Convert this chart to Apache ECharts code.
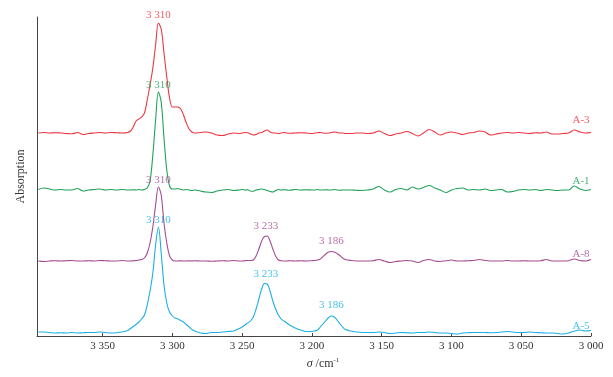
<!DOCTYPE html>
<html>
<head>
<meta charset="utf-8">
<script src="https://cdn.jsdelivr.net/npm/echarts@6/dist/echarts.min.js"></script>
<style>
  html, body { margin: 0; padding: 0; background: #fff; }
  #chart { width: 613px; height: 377px; }
</style>
</head>
<body>
<div id="chart"></div>
<script>
// wavenumbers (cm-1), finer around the bands
const wavenumbers = [
  3396, 3392, 3388, 3384, 3380, 3376, 3372, 3368, 3364, 3360, 3356, 3352, 3348, 3344, 3340, 3336, 3332,
  3330, 3328, 3326, 3324, 3322, 3320, 3318, 3316, 3314, 3312, 3310, 3308, 3306, 3304, 3302, 3300, 3298, 3296, 3294, 3292, 3290, 3288, 3286,
  3284, 3280, 3276, 3272, 3268, 3264, 3260, 3256, 3252,
  3250, 3248, 3246, 3244, 3242, 3240, 3238, 3236, 3234, 3232, 3230, 3228, 3226, 3224, 3222, 3220, 3218, 3216,
  3212, 3208, 3204, 3200,
  3198, 3196, 3194, 3192, 3190, 3188, 3186, 3184, 3182, 3180, 3178, 3176,
  3172, 3168, 3164, 3160, 3156, 3152, 3148, 3144, 3140, 3136, 3132, 3128, 3124, 3120, 3116, 3112, 3108, 3104,
  3100, 3096, 3092, 3088, 3084, 3080, 3076, 3072, 3068, 3064, 3060, 3056, 3052, 3048, 3044, 3040, 3036, 3032,
  3028, 3024, 3020, 3016, 3012, 3008, 3004, 3000
];

// absorption of each sample (arbitrary units, own baseline = 0)
const a3 = [
  0, 0.5, 0, 0.3, 0, -0.5, -0.8, 0.5, -1.5, -0.5, 0, 0.5, 0, 0.5, 0.3, 0, 0.5,
  2, 6, 12, 14, 16, 20, 33, 48, 65, 88, 110, 104, 80, 56, 35, 26, 26, 26, 24, 18, 10, 4, 1,
  0, 0.5, 1, 0, -2, -2.5, -1, 0, -0.5,
  0, 0.5, 0.3, -1, -2, -1.5, 0, 0.5, 2, 3, 1, 0, 0, -0.5, 0, 0.5, 0, -0.3,
  0, 0.3, 0, -0.5,
  0, 0.3, 0.5, 0, -0.3, 0, 0.5, 1, 0.5, 0, 0, -0.5,
  -0.5, 0, 0, -0.5, 0, 2, -0.5, -2.5, -1, 0, 1.5, -0.5, -3, 0, 3.5, 1, -2, 0,
  1, 0, -1.5, 0, 0.5, 2, 1, -2, -1, 0, 0.5, 0, 0.5, 0, -0.5, 0.3, 0, 1,
  -1, -1, -0.5, 0, 3, 1, 0, 0.5
];
const a1 = [
  0.5, 2, 1, 0, 0.5, 0, 0, 1.5, -1, 0, 0.5, 1, 0, 0.5, 0, 0.5, 0,
  0, 0.3, 0, 0.5, 0, 0.5, 2, 9, 35, 70, 98, 88, 52, 20, 4, 1, 1, 1.5, 0.5, 0, 0.5, 0, -0.5,
  0, -1, -2, -2.5, -1, 0, 0.5, -0.5, 0,
  0.5, 0, 0.3, -1, -1.2, 0, 0.5, 1, 0.5, -0.5, -1.5, -2, -0.5, 0.5, 0, 0.3, 0, -0.3,
  0.5, 0, 0.3, 0,
  0, 0.5, 0, 0, 0.3, 0, 0, 0.5, 0, -0.3, 0, 0,
  0, -0.3, -0.5, 0, 1, 3.5, 0, -2, 0.5, 1.5, 0, 3, 1, 2.5, 4.5, 2, 0, -2.5,
  0, 1.5, 2, 0, 0.5, 0, 1, -0.5, 0, 0.5, -2, -1.5, 0, 0.5, 0, 0.5, -0.5, 0.5,
  0, -0.5, 0, 0, 4, 1, -0.5, 0.5
];
const a8 = [
  0, -0.5, 0, 0.3, 0, 0.3, 0.5, 0, 0, 0.3, 0, 0.5, 0.3, 0, 0, 0.5, 0,
  0, 0.3, 0.5, 1, 1.5, 3, 8, 18, 34, 56, 74, 66, 38, 18, 5, 1, 0, 0, 0.3, 0, 0, 0.3, 0,
  0.3, 0, 0, -0.3, 0, 0.3, 0, 0.5, 0,
  0, 0.3, 0.5, 0.5, 1, 5, 12, 20, 24.5, 25, 20, 12, 5, 1, 0.3, 0, 0, 0.3,
  0, 0.3, 0, 0.3,
  0.5, 1, 2, 4.5, 7, 9, 9.5, 9, 7.5, 5.5, 3, 1.5,
  0.5, 0, 0, 0, 0.3, 1.5, 0, -1.5, -0.5, 0, 0.5, 0, -1.5, 0.5, 1.5, 0, -0.5, 0.3,
  1, 0, 0, 0.3, 0.5, 1.5, 0.5, 0, 0, 0, 0.5, 0, 0, 0.3, 0, 0, 0.3, 1.5,
  0, 0, 0, 0.3, 2, 0.5, 0, 1.5
];
const a5 = [
  1, 1, 0.5, 0, 0.3, 0, 0.5, 0, 0.3, 0.5, 0.5, 1, 0.5, 0, 0.3, 1, 2.5,
  4.5, 6.5, 8.5, 11, 14, 18, 28, 42, 60, 88, 106, 80, 48, 30, 21, 17, 15, 14, 12.5, 11, 8.5, 6, 3.5,
  2, 0, -0.5, 0.5, 0.5, 1, 1.5, 2, 4.5,
  6, 8, 10, 12, 16, 24, 34, 44, 49.5, 49, 42, 32, 24, 18, 14, 12, 10, 8,
  5, 3, 1.5, 1.5,
  2, 3, 6, 9, 12.5, 15.5, 17, 16, 13, 9.5, 6, 3.5,
  2, 1, 0.5, 0.5, 0.5, 1, 0.5, -0.5, 0, 0.5, 0.3, 0, 0.5, 0.5, 1, 0.5, 0, 0,
  -0.5, -1, 0, 0.3, 0.5, 0.5, 0.5, 0.3, 0.5, 1, 1.5, 1, 0.5, 0.5, 1, 0.5, 0.3, 0,
  0, -0.5, -1, 0, 2, 3, 2, 2.5
];

const seriesNames = ["A-3", "A-1", "A-8", "A-5"];
const spectra = [a3, a1, a8, a5];
const colors = ["#ee3540", "#21a25a", "#a64c90", "#1bafe6"];
// vertical shift of each trace so they stack
const offsets = [203, 146, 75, 3];

// labelled bands: [trace index, wavenumber]
const peaks = [
  [0, 3310], [1, 3310], [2, 3310], [3, 3310],
  [2, 3233], [2, 3186], [3, 3233], [3, 3186]
];
const xTicks = [3350, 3300, 3250, 3200, 3150, 3100, 3050, 3000];

const fmtWn = (v) => {
  const s = String(Math.round(v));
  return s.slice(0, 1) + " " + s.slice(1);
};

// index of the highest sample within 3 cm-1 of a band position
const peakIndex = (vals, w) => {
  let best = -1;
  wavenumbers.forEach((x, i) => {
    if (Math.abs(x - w) <= 3 && (best < 0 || vals[i] > vals[best])) best = i;
  });
  return best;
};

const serif = "Liberation Serif, Times New Roman, serif";
const chart = echarts.init(document.getElementById("chart"));

const lineSeries = spectra.map((vals, k) => ({
  name: seriesNames[k],
  type: "line",
  showSymbol: false,
  smooth: 0.35,
  silent: true,
  lineStyle: { color: colors[k], width: 1.1 },
  data: wavenumbers.map((w, i) => [w, vals[i] + offsets[k]]),
}));

const peakDistance = { 3310: 1, 3233: 4, 3186: 5 };
const peakPoints = peaks.map(([k, w]) => {
  const i = peakIndex(spectra[k], w);
  return {
    value: [w, spectra[k][i] + offsets[k]],
    label: {
      color: colors[k],
      distance: k === 0 ? 2 : peakDistance[w],
      formatter: fmtWn(w),
    },
  };
});

const endLift = [12, 8, 5.5, 4];
const endPoints = spectra.map((vals, k) => {
  const i = wavenumbers.length - 1;
  return {
    value: [wavenumbers[i], vals[i] + offsets[k]],
    label: {
      color: colors[k],
      position: "inside",
      offset: [-10, -endLift[k]],
      formatter: seriesNames[k],
    },
  };
});

const option = {
  animation: false,
  grid: { left: 37, right: 22, top: 17, bottom: 41 },
  xAxis: {
    type: "value",
    inverse: true,
    min: 3000,
    max: 3397,
    interval: 50,
    name: "{i|σ} /cm{s|-1}",
    nameLocation: "middle",
    nameGap: 20,
    nameTextStyle: {
      fontFamily: serif,
      fontSize: 12,
      color: "#333",
      padding: [0, 0, 0, 18],
      rich: {
        i: { fontFamily: serif, fontStyle: "italic", fontSize: 12, color: "#333" },
        s: { fontFamily: serif, fontSize: 7, color: "#333", padding: [0, 0, 6, 0] },
      },
    },
    axisLine: { lineStyle: { color: "#444", width: 1 } },
    axisTick: { inside: true, length: 3, lineStyle: { color: "#444" } },
    axisLabel: {
      fontFamily: serif,
      fontSize: 11,
      color: "#333",
      margin: 5,
      showMaxLabel: false,
      formatter: (v) => (xTicks.includes(v) ? fmtWn(v) : ""),
    },
    splitLine: { show: false },
  },
  yAxis: {
    type: "value",
    min: 0,
    max: 319,
    name: "Absorption",
    nameLocation: "middle",
    nameRotate: 90,
    nameGap: 10,
    nameTextStyle: { fontFamily: serif, fontSize: 12, color: "#333" },
    axisLine: { show: true, lineStyle: { color: "#444", width: 1 } },
    axisTick: { show: false },
    axisLabel: { show: false },
    splitLine: { show: false },
  },
  series: [
    ...lineSeries,
    {
      type: "scatter",
      symbolSize: 0,
      silent: true,
      label: { show: true, position: "top", fontFamily: serif, fontSize: 11 },
      data: peakPoints,
      z: 5,
    },
    {
      type: "scatter",
      symbolSize: 0,
      silent: true,
      label: { show: true, fontFamily: serif, fontSize: 11 },
      data: endPoints,
      z: 5,
    },
  ],
};

chart.setOption(option);
</script>
</body>
</html>
